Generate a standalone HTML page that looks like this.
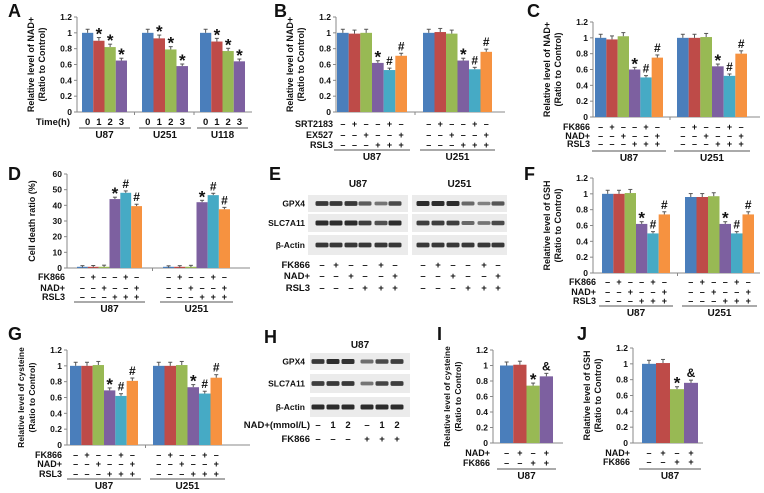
<!DOCTYPE html>
<html><head><meta charset="utf-8">
<style>
html,body{margin:0;padding:0;background:#fff;}
svg{display:block;font-family:"Liberation Sans",Arial,sans-serif;}
</style></head>
<body>
<svg id="fig" width="764" height="493" viewBox="0 0 764 493" xmlns="http://www.w3.org/2000/svg"></svg>
<script>
// ---------- data ----------
const yTicksRatio = ["0","0.2","0.4","0.6","0.8","1","1.2"];
const yTicksDeath = ["0","10","20","30","40","50","60"];
const groupsA = ["U87","U251","U118"];
const timeA = ["0","1","2","3"];
const seriesA = [[1,0.9,0.82,0.65],[1,0.93,0.79,0.58],[1,0.89,0.77,0.64]];
const marksA = ["","*","*","*"];
const groups2 = ["U87","U251"];
const seriesB = [[1,0.99,1,0.62,0.53,0.71],[1,1.01,0.99,0.65,0.54,0.76]];
const seriesC = [[1,0.98,1.02,0.6,0.5,0.75],[1,1,1.01,0.64,0.52,0.8]];
const seriesD = [[0.3,0.4,0.6,44,48,39.5],[0.2,0.3,0.5,42,46.5,37.5]];
const seriesF = [[1,1,1.01,0.62,0.5,0.74],[0.96,0.96,0.97,0.62,0.5,0.74]];
const seriesG = [[1,1,1.01,0.69,0.62,0.81],[1,1,1.01,0.73,0.65,0.85]];
const seriesI = [[1,1.01,0.74,0.86]];
const seriesJ = [[1,1.01,0.68,0.76]];
const marks6 = ["","","","*","#","#"];
const marks4 = ["","","*","&"];
const rowsB = [["SRT2183","-+--+-"],["EX527","--+--+"],["RSL3","---+++"]];
const rowsC = [["FK866","-+--+-"],["NAD+","--+--+"],["RSL3","---+++"]];
const rowsIJ = [["NAD+","-+-+"],["FK866","--++"]];
const colors6 = ["#4a7ebb","#be4b48","#98b954","#7d60a0","#46aac5","#f69240"];

// ---------- helpers ----------
const NS="http://www.w3.org/2000/svg";
const svg=document.getElementById("fig");
function el(tag,attrs,parent){const e=document.createElementNS(NS,tag);for(const k in attrs)e.setAttribute(k,attrs[k]);(parent||svg).appendChild(e);return e;}
function txt(x,y,s,size,anchor,parent,extra){const t=el("text",Object.assign({x:x,y:y,"font-size":size,"font-weight":"bold","text-anchor":anchor||"middle",fill:"#111"},extra||{}),parent);t.textContent=s;return t;}

function panel(p){
  const g=el("g",{});
  
  
  const L=txt(p.lx,p.ly,p.id,18,"start",g);
  
  
  const ymax=p.ymax;
  const Y=v=>p.y0-(v/ymax)*(p.y0-p.ytop);
  const ax=el("line",{x1:p.ax,y1:p.ytop,x2:p.ax,y2:p.y0,stroke:"#888","stroke-width":1},g);
  
  
  const bx=el("line",{x1:p.ax,y1:p.y0,x2:p.right,y2:p.y0,stroke:"#888","stroke-width":1},g);
  
  
  p.ticks.forEach((t,i)=>{
    const v=ymax*i/(p.ticks.length-1);
    el("line",{x1:p.ax-3,y1:Y(v),x2:p.ax,y2:Y(v),stroke:"#888"},g);
    const tt=txt(p.ax-5,Y(v)+3,t,8.5,"end",g);
    
    
  });
  for(let k=0;k<p.groups.length-1;k++){
    const sx=(p.gx[k][1]+p.gx[k+1][0])/2;
    el("line",{x1:sx,y1:p.y0,x2:sx,y2:p.y0+3,stroke:"#888"},g);
  }
  const cy=(p.y0+p.ytop)/2;
  p.ytitle.forEach((s,i)=>{
    const tx=p.ax-p.tOff+i*11;
    const t=txt(tx,cy,s,p.tSize||9,"middle",g,{transform:"rotate(-90 "+tx+" "+cy+")"});
    
    
  });
  p.series.forEach((vals,gi)=>{
    const [g0,g1]=p.gx[gi];
    const w=(g1-g0)/vals.length;
    vals.forEach((v,bi)=>{
      const x=g0+bi*w;
      const h=Math.max(p.y0-Y(v),ymax>2?1.2:0);
      const r=el("rect",{x:x,y:p.y0-h,width:w,height:h,fill:colors6[bi]},g);
      
      
      const e=ymax>2?1.2:v*0.045;
      const cx=x+w/2;
      el("line",{x1:cx,y1:Y(v),x2:cx,y2:Y(v+e),stroke:"#555"},g);
      el("line",{x1:cx-2,y1:Y(v+e),x2:cx+2,y2:Y(v+e),stroke:"#555"},g);
      const m=p.marks[bi];
      if(m){
        const mt=txt(cx,Y(v+e)-3+(m=="*"?5:0),m,m=="*"?17:12,"middle",g);
        
        
      }
      if(p.rows){
        p.rows.forEach((row,ri)=>{
          const c=row[1][bi];
          const st=txt(cx,p.rowY[ri]+3,c=="+"?"+":"–",9,"middle",g);
          
          
        });
      }
      if(p.time){
        const tl=txt(cx,p.rowY[0]+3,p.time[bi],9.5,"middle",g);
        
        
      }
    });
    el("line",{x1:g0-3,y1:p.uY,x2:g1+3,y2:p.uY,stroke:"#555"},g);
    const gl=txt((g0+g1)/2,p.uY+10,p.groups[gi],10,"middle",g);
    
    
  });
  if(p.rows){p.rows.forEach((row,ri)=>{
    const rl=txt(p.rlx,p.rowY[ri]+3,row[0],9,"end",g);
    
    
  });}
  if(p.time){
    const rl=txt(p.rlx,p.rowY[0]+3,"Time(h)",9.5,"end",g);
    
    
  }
}
const nadT=["Relative level of NAD+","(Ratio to Control)"];
panel({id:"A",lx:8,ly:17,ax:77,y0:112,ytop:17,right:252,ymax:1.2,ticks:yTicksRatio,groups:groupsA,gx:[[82,127],[142,188],[200,245]],series:seriesA,marks:marksA,time:timeA,rowY:[122],uY:128,rlx:70,ytitle:nadT,tOff:43});
panel({id:"B",lx:274,ly:17,ax:336,y0:112,ytop:17,right:505,ymax:1.2,ticks:yTicksRatio,groups:groups2,gx:[[337,407],[423,492]],series:seriesB,marks:marks6,rows:rowsB,rowY:[124,135,145],uY:150,rlx:333,ytitle:nadT,tOff:43});
panel({id:"C",lx:527,ly:17,ax:593,y0:117,ytop:22,right:760,ymax:1.2,ticks:yTicksRatio,groups:groups2,gx:[[595,663],[677,747]],series:seriesC,marks:marks6,rows:rowsC,rowY:[127,136,144],uY:151,rlx:590,ytitle:nadT,tOff:43});
panel({id:"D",lx:8,ly:180,ax:67,y0:268,ytop:174,right:250,ymax:60,ticks:yTicksDeath,groups:groups2,gx:[[77,142],[163,230]],series:seriesD,marks:marks6,rows:rowsC,rowY:[277,288,297],uY:302,rlx:65,ytitle:["Cell death ratio (%)"],tOff:32});
panel({id:"F",lx:524,ly:180,ax:593,y0:273,ytop:178,right:760,ymax:1.2,ticks:yTicksRatio,groups:groups2,gx:[[602,670],[685,754]],series:seriesF,marks:marks6,rows:rowsC,rowY:[282,292,301],uY:306,rlx:596,ytitle:["Relative level of GSH","(Ratio to Control)"],tOff:43});
panel({id:"G",lx:8,ly:340,ax:67,y0:445,ytop:350,right:250,ymax:1.2,ticks:yTicksRatio,groups:groups2,gx:[[70,138],[153,222]],series:seriesG,marks:marks6,rows:rowsC,rowY:[455,464,474],uY:479,rlx:62,ytitle:["Relative level of cysteine","(Ratio to Control)"],tOff:43,tSize:8.5});
panel({id:"I",lx:437,ly:340,ax:493,y0:443,ytop:350,right:563,ymax:1.2,ticks:yTicksRatio,groups:["U87"],gx:[[500,553]],series:seriesI,marks:marks4,rows:rowsIJ,rowY:[453,463],uY:469,rlx:490,ytitle:["Relative level of cysteine","(Ratio to Control)"],tOff:43,tSize:8.5});
panel({id:"J",lx:577,ly:340,ax:633,y0:443,ytop:348,right:703,ymax:1.2,ticks:yTicksRatio,groups:["U87"],gx:[[642,698]],series:seriesJ,marks:marks4,rows:rowsIJ,rowY:[453,462],uY:469,rlx:630,ytitle:["Relative level of GSH","(Ratio to Control)"],tOff:43});

// ---------- western blots ----------
const bandE = {GPX4:[[.9,.9,.9,.6,.4,.75],[1,1,1,.5,.3,.65]],SLC7A11:[[1,1,1,.85,.7,1],[.85,.85,.85,.5,.4,.75]],"β-Actin":[[.9,.9,.9,.9,.9,.9],[.9,.9,.9,.9,.9,.9]]};
const bandH = {GPX4:[.9,1,.95,.45,.75,.85],SLC7A11:[.85,.9,.9,.4,.8,.85],"β-Actin":[1,1,1,1,1,1]};
function blot(id,lx,ly,boxes,rowsY,lanes,intens,header,labelsX,condRows,condY,condLabX){
  const g=el("g",{});
  
  
  const L=txt(lx,ly,id,18,"start",g);
  
  
  const names=Object.keys(intens);
  boxes.forEach((b,bi)=>{
    const h=txt((b[0]+b[1])/2,header[1],header[0][bi],10,"middle",g);
    
    
    names.forEach((n,ri)=>{
      const [y1,y2]=rowsY[ri];
      const r=el("rect",{x:b[0],y:y1,width:b[1]-b[0],height:y2-y1,fill:"#ebebeb"},g);
      
      
      const vals=boxes.length>1?intens[n][bi]:intens[n];
      lanes[bi].forEach((lx2,li)=>{
        const v=vals[li];
        const band=el("rect",{x:lx2-6.5,y:(y1+y2)/2-1.5-v,width:13,height:3+2*v,rx:1.5,fill:"#222","fill-opacity":0.35+0.6*v},g);
        
        
      });
    });
  });
  names.forEach((n,ri)=>{
    const t=txt(labelsX,(rowsY[ri][0]+rowsY[ri][1])/2+3,n,8.5,"end",g);
    
    
  });
  condRows.forEach((row,ri)=>{
    const t=txt(condLabX,condY[ri]+3,row[0],9.5,"end",g);
    
    
    lanes.forEach(ls=>ls.forEach((lx2,li)=>{
      const c=row[1][li];
      const s=txt(lx2,condY[ri]+3,c=="-"?"–":c,9.5,"middle",g);
      
      
    }));
  });
}
blot("E",269,180,[[308,408],[412,507]],[[195,212],[214,232],[235,255]],[[322,336,351,365,381,395],[423,438,453,468,484,498]],bandE,[["U87","U251"],187],305,rowsC,[265,276,288],310);
blot("H",264,343,[[310,410]],[[353,370],[374,393],[397,417]],[[318,333,348,367,382,397]],bandH,[["U87"],348],305,[["NAD+(mmol/L)","-12-12"],["FK866","---+++"]],[425,439],310);
</script>
</body></html>
